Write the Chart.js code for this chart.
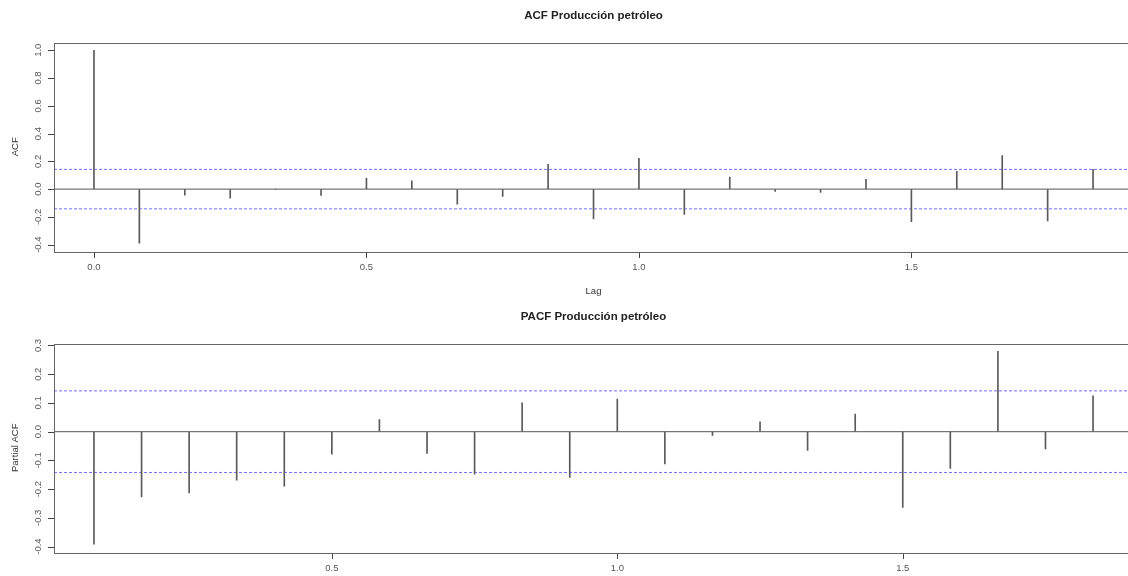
<!DOCTYPE html>
<html>
<head>
<meta charset="utf-8">
<title>ACF / PACF Producción petróleo</title>
<script src="https://cdn.jsdelivr.net/npm/chart.js@4"></script>
<style>
    html, body { margin: 0; padding: 0; background: #fff; overflow: hidden; width: 1128px; height: 576px; }
    .panel { position: absolute; left: 0; width: 1140px; height: 301px; }
    #acfPanel { top: 0; }
    #pacfPanel { top: 301px; }
</style>
</head>
<body>
<div class="panel" id="acfPanel"><canvas id="acfChart" width="1140" height="301"></canvas></div>
<div class="panel" id="pacfPanel"><canvas id="pacfChart" width="1140" height="301"></canvas></div>
<script>
// Lags in years (monthly series, lag k = k/12)
const acfLags = [0, 0.0833, 0.1667, 0.25, 0.3333, 0.4167, 0.5, 0.5833, 0.6667, 0.75, 0.8333, 0.9167,
                 1.0, 1.0833, 1.1667, 1.25, 1.3333, 1.4167, 1.5, 1.5833, 1.6667, 1.75, 1.8333];
const acfValues = [1.0, -0.39, -0.043, -0.065, -0.003, -0.045, 0.08, 0.06, -0.108, -0.053, 0.178, -0.214,
                   0.222, -0.183, 0.087, -0.017, -0.024, 0.07, -0.234, 0.128, 0.241, -0.229, 0.142];

const pacfLags = acfLags.slice(1);
const pacfValues = [-0.392, -0.227, -0.213, -0.169, -0.19, -0.078, 0.042, -0.076, -0.148, 0.1, -0.159,
                    0.113, -0.112, -0.013, 0.034, -0.065, 0.061, -0.264, -0.128, 0.28, -0.06, 0.125];

const confLimit = 0.142;
const xTicks = [0, 0.5, 1.0, 1.5];
const acfYTicks = [-0.4, -0.2, 0, 0.2, 0.4, 0.6, 0.8, 1.0];
const pacfYTicks = [-0.4, -0.3, -0.2, -0.1, 0, 0.1, 0.2, 0.3];

const FONT = '"Liberation Sans", Arial, sans-serif';
const TICK_LEN = 6;

// R style axis range: data range padded 4% each side
function padRange(lo, hi) {
    const d = (hi - lo) * 0.04;
    return [lo - d, hi + d];
}

// box around the plot region plus outward tick marks, like R's box() + axis()
function boxPlugin(xVals, yVals) {
    return {
        id: 'plotBox',
        afterDraw(chart) {
            const a = chart.chartArea;
            const ctx = chart.ctx;
            const xs = chart.scales.x;
            const ys = chart.scales.y;
            const left = Math.round(a.left);
            const bottom = Math.round(a.bottom);
            ctx.save();
            ctx.setLineDash([]);
            ctx.globalAlpha = 1;
            ctx.fillStyle = '#444';
            for (const v of xVals) {
                if (v < xs.min || v > xs.max) continue;
                ctx.fillRect(Math.round(xs.getPixelForValue(v)), bottom + 1, 1, TICK_LEN);
            }
            for (const v of yVals) {
                ctx.fillRect(left - TICK_LEN, Math.round(ys.getPixelForValue(v)), TICK_LEN, 1);
            }
            ctx.strokeStyle = '#666';
            ctx.lineWidth = 1;
            ctx.strokeRect(left + 0.5, Math.round(a.top) + 0.5,
                           Math.round(a.right - a.left), Math.round(a.bottom - a.top));
            ctx.restore();
        }
    };
}

function makeChart(canvasId, title, yTitle, lags, values, yTicks) {
    const [xMin, xMax] = padRange(Math.min(...lags), Math.max(...lags));
    const [yMin, yMax] = padRange(Math.min(...values, -confLimit), Math.max(...values, confLimit));

    const hLine = (y, color, width, dash) => ({
        type: 'line',
        data: [{ x: xMin, y: y }, { x: xMax, y: y }],
        borderColor: color,
        borderWidth: width,
        borderDash: dash,
        pointRadius: 0
    });

    return new Chart(document.getElementById(canvasId).getContext('2d'), {
        type: 'bar',
        data: {
            datasets: [
                {
                    type: 'bar',
                    data: lags.map((x, i) => ({ x: x, y: values[i] })),
                    backgroundColor: '#5a5a5a',
                    borderWidth: 0,
                    barThickness: 1,
                    grouped: false
                },
                hLine(confLimit, '#7070ff', 1, [3, 2]),
                hLine(-confLimit, '#7070ff', 1, [3, 2]),
                hLine(0, '#777', 1.4, [])
            ]
        },
        options: {
            responsive: false,
            animation: false,
            devicePixelRatio: 1,
            layout: { padding: { left: 0, right: 7, top: 0, bottom: 0 } },
            plugins: {
                legend: { display: false },
                tooltip: { enabled: false },
                title: {
                    display: true,
                    text: title,
                    fullSize: false,
                    color: '#222',
                    font: { family: FONT, size: 11.5, weight: 'bold' },
                    padding: { top: 9, bottom: 19.7 }
                }
            },
            scales: {
                x: {
                    type: 'linear',
                    min: xMin,
                    max: xMax,
                    offset: false,
                    afterBuildTicks: s => { s.ticks = xTicks.filter(v => v >= xMin && v <= xMax).map(v => ({ value: v })); },
                    afterFit: s => { s.height = 50; },
                    ticks: {
                        autoSkip: false,
                        maxRotation: 0,
                        padding: 5,
                        color: '#555',
                        font: { family: FONT, size: 9.5 },
                        callback: v => Number(v).toFixed(1)
                    },
                    grid: { offset: false, drawOnChartArea: false, drawTicks: true, tickLength: TICK_LEN, color: 'rgba(0,0,0,0)' },
                    border: { display: false },
                    title: {
                        display: true,
                        text: 'Lag',
                        color: '#333',
                        font: { family: FONT, size: 9.5 },
                        padding: { top: 0, bottom: 3.6 }
                    }
                },
                y: {
                    type: 'linear',
                    min: yMin,
                    max: yMax,
                    afterBuildTicks: s => { s.ticks = yTicks.map(v => ({ value: v })); },
                    afterFit: s => { s.width = 54; },
                    ticks: {
                        autoSkip: false,
                        minRotation: 90,
                        maxRotation: 90,
                        crossAlign: 'center',
                        padding: 1,
                        color: '#555',
                        font: { family: FONT, size: 9.5 },
                        callback: v => Number(v).toFixed(1)
                    },
                    grid: { drawOnChartArea: false, drawTicks: true, tickLength: TICK_LEN, color: 'rgba(0,0,0,0)' },
                    border: { display: false },
                    title: {
                        display: true,
                        text: yTitle,
                        color: '#333',
                        font: { family: FONT, size: 9.5 },
                        padding: { top: 9.5, bottom: 0 }
                    }
                }
            }
        },
        plugins: [boxPlugin(xTicks, yTicks)]
    });
}

makeChart('acfChart', 'ACF Producción petróleo', 'ACF', acfLags, acfValues, acfYTicks);
makeChart('pacfChart', 'PACF Producción petróleo', 'Partial ACF', pacfLags, pacfValues, pacfYTicks);
</script>
</body>
</html>
